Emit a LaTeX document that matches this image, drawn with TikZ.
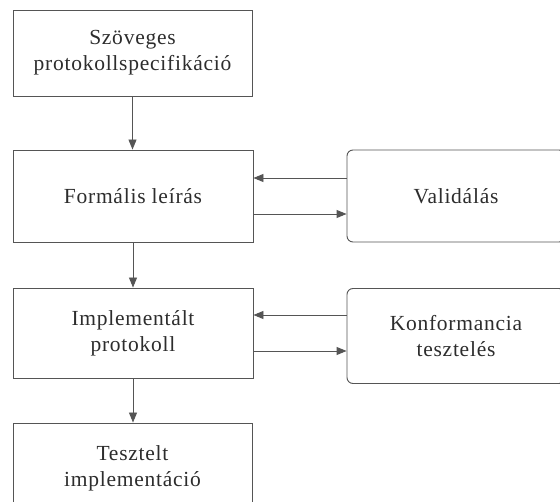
\documentclass[tikz,border=0pt]{standalone}
\usepackage{fontspec}
\setmainfont{Liberation Serif}
\usetikzlibrary{arrows.meta}
\definecolor{linegray}{RGB}{85,85,85}
\definecolor{textgray}{RGB}{45,45,45}
\begin{document}
\begin{tikzpicture}[x=1pt,y=-1pt,
		box/.style={draw=linegray, line width=0.9pt, text=textgray, align=center, inner sep=0pt, font=\fontsize{21.5}{26}\selectfont\addfontfeature{LetterSpace=3.5}},
		rbox/.style={box, rounded corners=6pt},
		arr/.style={draw=linegray, line width=0.9pt, -{Triangle[length=10pt,width=8pt]}}]
		\useasboundingbox (0,0) rectangle (560,502);
		\clip (0,0) rectangle (560,502);
		\fill[white] (0,0) rectangle (560,502);
		
		%left column
		\node[box, minimum width=239pt, minimum height=86pt] (szov) at (132.5,53) {Szöveges\\protokollspecifikáció};
		\node[box, minimum width=240pt, minimum height=92pt] (form) at (133,196) {Formális leírás};
		\node[box, minimum width=240pt, minimum height=90pt] (impl) at (133,333) {Implementált\\protokoll};
		\node[box, minimum width=239pt, minimum height=90pt] (teszt) at (132.5,468) {Tesztelt\\implementáció};
		
		%right column
		\node[rbox, minimum width=218pt, minimum height=92pt] (val) at (456,196) {Validálás};
		\node[rbox, minimum width=218pt, minimum height=95pt] (konf) at (456,336) {Konformancia\\tesztelés};
		
		%vertical arrows
		\draw[arr] (szov.south) -- (szov.south |- form.north);
		\draw[arr] (form.south) -- (form.south |- impl.north);
		\draw[arr] (impl.south) -- (impl.south |- teszt.north);
		
		%arrows to and from the right column
		\draw[arr] ([yshift=18pt]val.west) -- ([yshift=18pt]val.west -| form.east);
		\draw[arr] ([yshift=-18pt]form.east) -- ([yshift=-18pt]form.east -| val.west);
		\draw[arr] ([yshift=18pt]konf.west |- impl.center) -- ([yshift=18pt]impl.east);
		\draw[arr] ([yshift=-18pt]impl.east) -- ([yshift=-18pt]impl.east -| konf.west);
	\end{tikzpicture}
\end{document}
